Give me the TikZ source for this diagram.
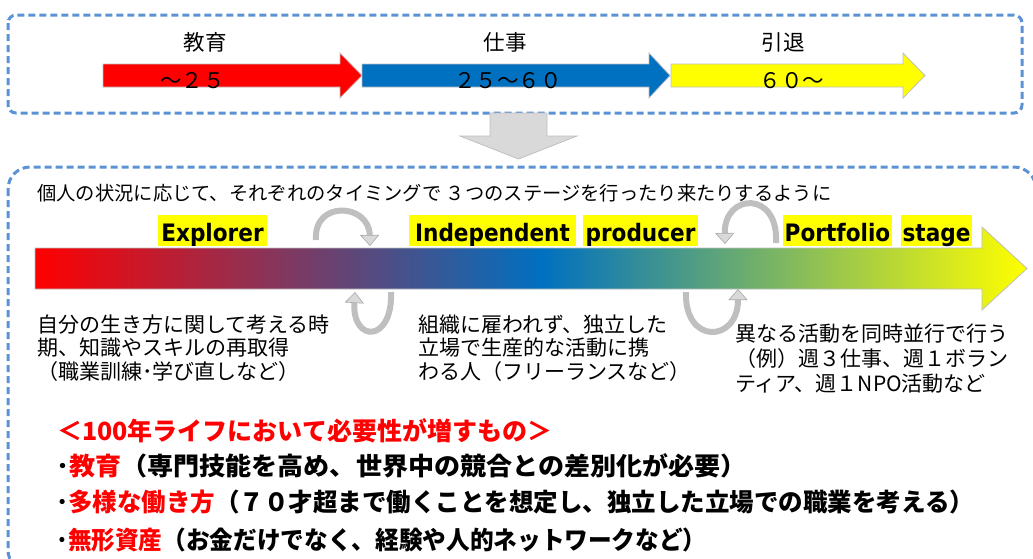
\documentclass[tikz,border=0pt]{standalone}
\usepackage{fontspec}
\newfontfamily\jp{Noto Sans CJK JP}
\newfontfamily\lat[FakeStretch=0.9]{DejaVu Sans}
\usetikzlibrary{arrows.meta}
\definecolor{dashblue}{RGB}{91,146,214}
\definecolor{cblue}{RGB}{0,112,192}
\definecolor{cred}{RGB}{255,0,0}
\definecolor{cyel}{RGB}{255,255,0}
\definecolor{lgray}{RGB}{217,217,217}
\definecolor{mgray}{RGB}{191,191,191}
\definecolor{dgray}{RGB}{166,166,166}
\pgfdeclarehorizontalshading{rby}{100bp}{color(0bp)=(cred); color(25bp)=(cred); color(50.5bp)=(cblue); color(75bp)=(cyel); color(100bp)=(cyel)}
\tikzset{
  frame/.style={draw=dashblue, line width=3pt, dash pattern=on 7pt off 4pt},
  toplab/.style={anchor=base, inner sep=0pt, font=\jp\fontsize{21.5}{25}\selectfont},
  intro/.style={anchor=base west, inner sep=0pt, font=\jp\fontsize{19.3}{23}\selectfont},
  body/.style={anchor=base west, inner sep=0pt, font=\jp\fontsize{21}{25}\selectfont},
  stagebox/.style={fill=cyel, inner xsep=0pt, inner ysep=0pt, minimum height=31pt,
    text height=21pt, text depth=0pt, font=\lat\bfseries\fontsize{24}{28}\selectfont},
  bl/.style={anchor=base west, inner sep=0pt, font=\jp\bfseries\fontsize{25}{30}\selectfont},
  flatarrow/.style={draw=mgray, line width=0.8pt},
  circ/.style={draw=mgray, line width=6pt,
    -{Triangle[length=11pt,width=19pt,fill=lgray,color=dgray,line width=0.6pt]}},
}
\begin{document}
\begin{tikzpicture}[x=1pt,y=-1pt]
\useasboundingbox (0,0) rectangle (1033,558);
\clip (0,0) rectangle (1033,558);
% frames
\draw[frame, rounded corners=8pt] (8,15) rectangle (1022,113);
\draw[frame, rounded corners=22pt] (8,167) rectangle (1036,572);
% top arrows
\path[flatarrow, fill=cred] (103,64) -- (340,64) -- (340,53) -- (362,75.5) -- (340,98) -- (340,87) -- (103,87) -- cycle;
\path[flatarrow, fill=cblue] (362,64) -- (649,64) -- (649,53) -- (670,75.5) -- (649,98) -- (649,87) -- (362,87) -- cycle;
\path[flatarrow, fill=cyel] (671,64) -- (903,64) -- (903,53) -- (925,75.5) -- (903,98) -- (903,87) -- (671,87) -- cycle;
\node[toplab] (edu) at (205,50) {教育};
\node[toplab] (work) at (505,50) {仕事};
\node[toplab] (retire) at (783,50) {引退};
\node[toplab] (age1) at (192.5,88) {～２５};
\node[toplab] (age2) at (508,88) {２５～６０};
\node[toplab] (age3) at (792,88) {６０～};
% down arrow
\path[fill=lgray, draw=mgray, line width=0.8pt] (490,113) -- (547,113) -- (547,136) -- (577,136) -- (518.5,159) -- (460,136) -- (490,136) -- cycle;
% intro line
\node[intro] (introtext) at (37,200) {個人の状況に応じて、それぞれのタイミングで ３つのステージを行ったり来たりするように};
% gradient arrow
\path[shading=rby, draw=mgray, line width=0.8pt] (35,248) -- (982,248) -- (982,227) -- (1027,268.5) -- (982,310) -- (982,289) -- (35,289) -- cycle;
% stage labels
\node[stagebox, minimum width=109pt] (explorer) at (212.5,230.5) {Explorer};
\node[stagebox, minimum width=167pt] (indep) at (492.5,230.5) {Independent};
\node[stagebox, minimum width=115pt] (producer) at (640.5,230.5) {producer};
\node[stagebox, minimum width=109pt] (portfolio) at (837.5,230.5) {Portfolio};
\node[stagebox, minimum width=71pt] (stage) at (936.5,230.5) {stage};
% circular arrows
\draw[circ] (316,240) .. controls (313,200) and (369,203) .. (370,246);
\draw[circ] (391,292) .. controls (393,343) and (352,343) .. (355,292);
\draw[circ] (686,292) .. controls (684,345) and (738,343) .. (738,289);
\draw[circ] (776,243) .. controls (779,190) and (724,193) .. (725,244);
% descriptions
\node[body] (d1a) at (37,332) {自分の生き方に関して考える時};
\node[body] (d1b) at (37,355.5) {期、知識やスキルの再取得};
\node[body] (d1c) at (37,379) {（職業訓練･学び直しなど）};
\node[body] (d2a) at (418,332) {組織に雇われず、独立した};
\node[body] (d2b) at (418,355.5) {立場で生産的な活動に携};
\node[body] (d2c) at (418,379) {わる人（フリーランスなど）};
\node[body] (d3a) at (735,341) {異なる活動を同時並行で行う};
\node[body] (d3b) at (735,366) {（例）週３仕事、週１ボラン};
\node[body] (d3c) at (735,391) {ティア、週１NPO活動など};
% bottom list
\node[bl] (need) at (57,440) {\color{cred}＜100年ライフにおいて必要性が増すもの＞};
\node[bl] (b1) at (56,475) {\scalebox{1.043}[1]{･{\color{cred}教育}（専門技能を高め、世界中の競合との差別化が必要）}};
\node[bl] (b2) at (56,511) {\scalebox{0.980}[1]{･{\color{cred}多様な働き方}（７０才超まで働くことを想定し、独立した立場での職業を考える）}};
\node[bl] (b3) at (56,549) {\scalebox{0.946}[1]{･{\color{cred}無形資産}（お金だけでなく、経験や人的ネットワークなど）}};
\end{tikzpicture}
\end{document}
